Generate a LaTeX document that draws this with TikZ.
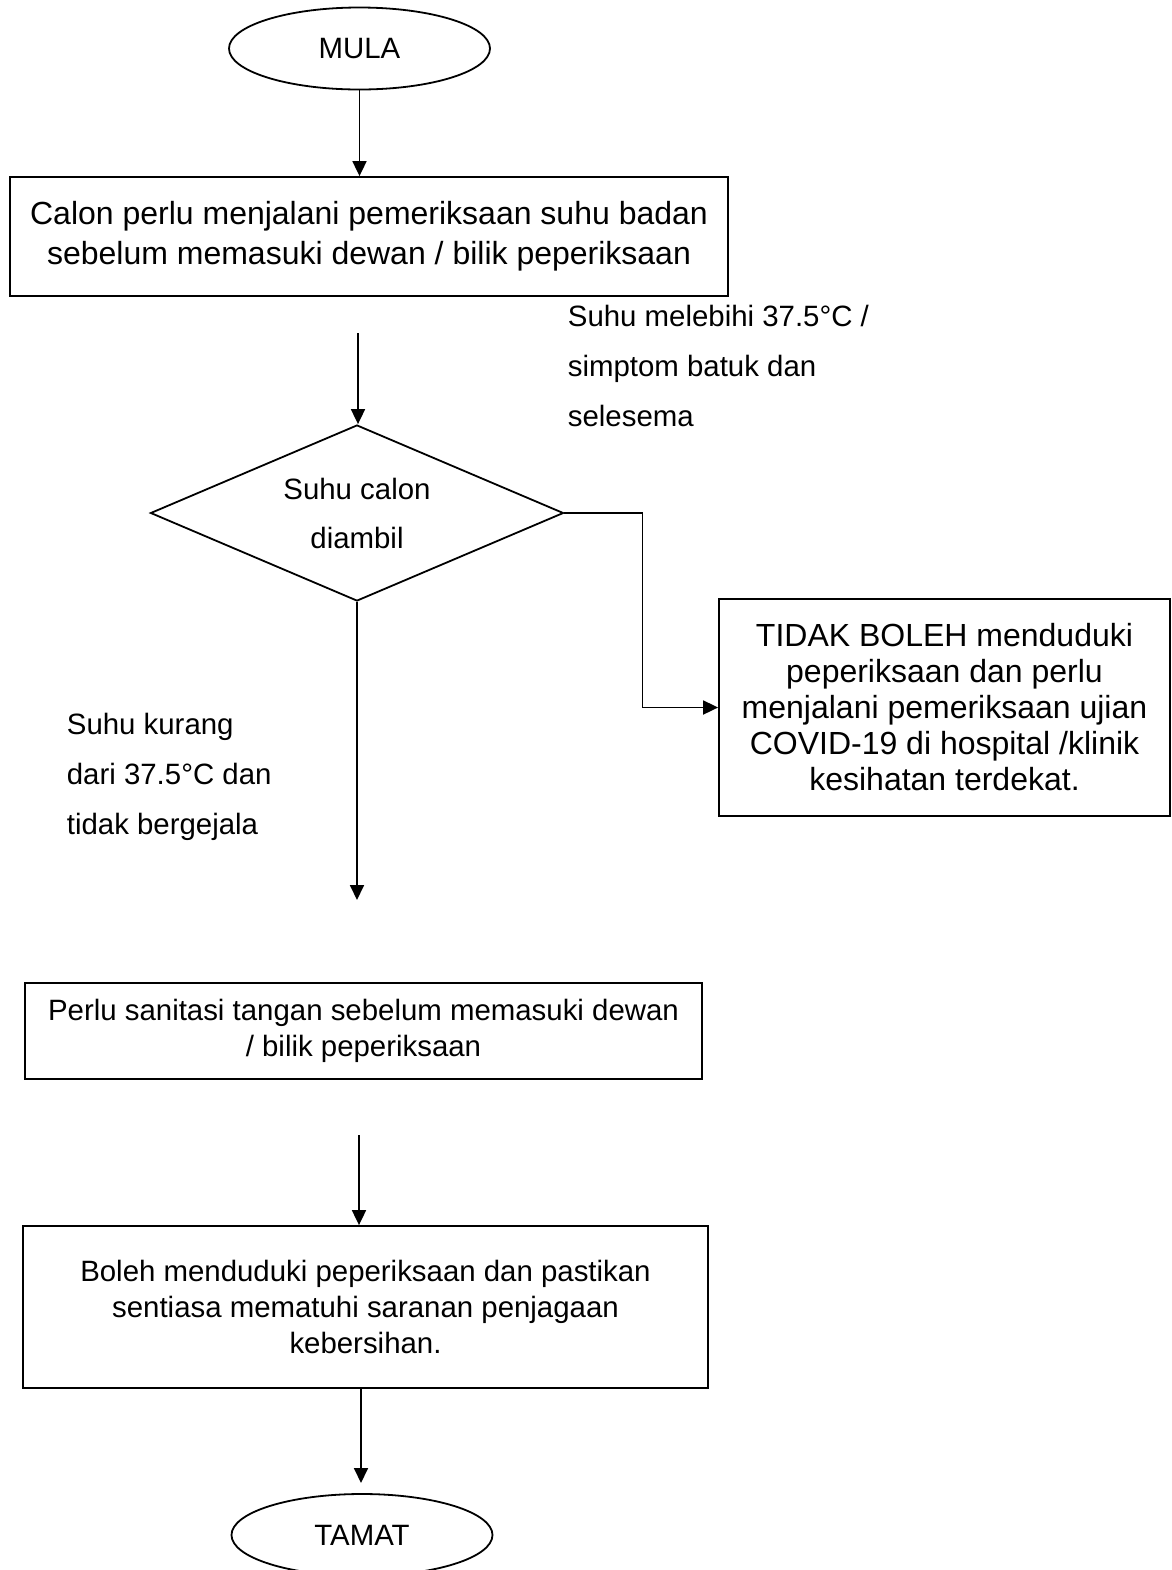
\documentclass[tikz,border=0pt]{standalone}
\usepackage{fontspec}
\setmainfont{Liberation Sans}
\usetikzlibrary{arrows.meta, shapes.geometric, calc}

\begin{document}
\begin{tikzpicture}[x=0.5pt, y=-0.5pt, line width=0.9pt,
	arr/.style={-{Triangle[length=7.5pt, width=7pt]}},
	terminal/.style={draw, ellipse, minimum width=130.5pt, minimum height=41pt, inner sep=0pt, font=\fontsize{14.7}{18}\selectfont},
	process/.style={draw, rectangle, align=center, inner sep=0pt, font=\fontsize{14.7}{18}\selectfont},
	decision/.style={draw, diamond, shape aspect=2.35, align=center, inner sep=0pt, minimum width=206.5pt, minimum height=88pt, font=\fontsize{14.7}{24.5}\selectfont},
	note/.style={anchor=west, align=left, inner sep=0pt, font=\fontsize{14.7}{25}\selectfont}]
	% Page
	\useasboundingbox (0,0) rectangle (1172,1570);
	
	% Start and first check
	\node[terminal] (mula) at (359.5,48.5) {MULA};
	\node[process, minimum width=359pt, minimum height=59.5pt, font=\fontsize{16}{20}\selectfont] (calon) at (369,236.5)
		{Calon perlu menjalani pemeriksaan suhu badan\\sebelum memasuki dewan / bilik peperiksaan};
	\node[decision] (suhu) at (357,513) {Suhu calon\\diambil};
	
	% Right branch
	\node[process, minimum width=225.5pt, minimum height=108.5pt, font=\fontsize{16}{18}\selectfont] (tidak) at (944.5,707.5)
		{TIDAK BOLEH menduduki\\peperiksaan dan perlu\\menjalani pemeriksaan ujian\\COVID-19 di hospital /klinik\\kesihatan terdekat.};
	
	% Lower boxes
	\node[process, minimum width=338.5pt, minimum height=48pt] (sanitasi) at (363.5,1031)
		{Perlu sanitasi tangan sebelum memasuki dewan\\/ bilik peperiksaan};
	\node[process, minimum width=342.5pt, minimum height=81pt] (boleh) at (365.5,1307)
		{Boleh menduduki peperiksaan dan pastikan\\sentiasa mematuhi saranan penjagaan\\kebersihan.};
	\node[terminal] (tamat) at (362,1535) {TAMAT};
	
	% Labels
	\node[note] (lebih) at (567,366) {Suhu melebihi 37.5°C /\\simptom batuk dan\\selesema};
	\node[note] (kurang) at (66,777) {Suhu kurang\\dari 37.5°C dan\\tidak bergejala};
	
	% Free ends
	\coordinate (c1) at (358,333);
	\coordinate (c2) at (357,900);
	\coordinate (c3) at (359,1135);
	\coordinate (c4) at (361,1483);
	
	% Connectors
	\draw[arr] (mula.south) -- (mula.south |- calon.north);
	\draw[arr] (c1) -- (c1 |- suhu.north);
	\draw[arr] (suhu.east) -- ++(78,0) |- (tidak.west);
	\draw[arr] (suhu.south) -- (c2);
	\draw[arr] (c3) -- (c3 |- boleh.north);
	\draw[arr] (boleh.south -| c4) -- (c4);
\end{tikzpicture}
\end{document}
